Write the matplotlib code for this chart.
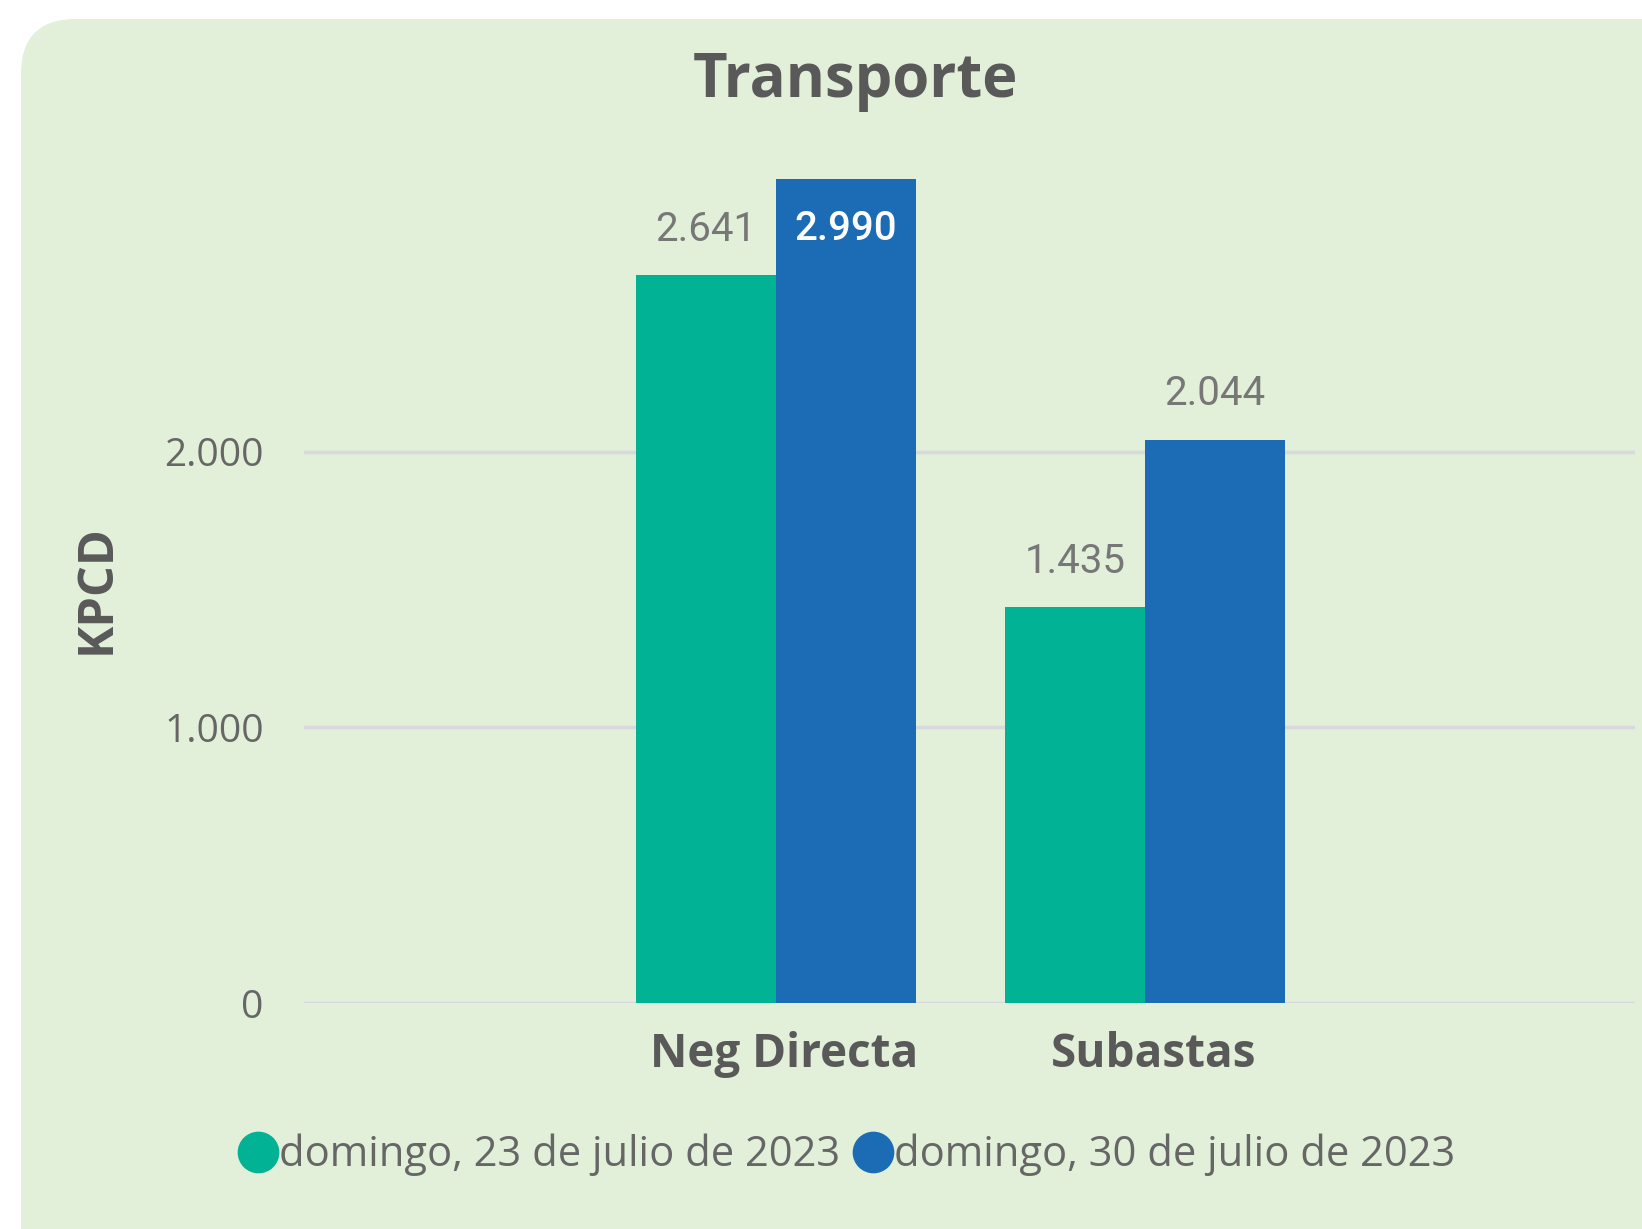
import numpy as np
import matplotlib.pyplot as plt
import matplotlib.transforms as mtransforms
from matplotlib.patches import FancyBboxPatch
from matplotlib.lines import Line2D

categories = ['Neg Directa', 'Subastas']
series_names = ['domingo, 23 de julio de 2023', 'domingo, 30 de julio de 2023']
week1 = [2641, 1435]
week2 = [2990, 2044]
yticks = [0, 1000, 2000]
ytick_labels = ['0', '1.000', '2.000']

GREEN = '#01B294'
BLUE = '#1B6CB4'
BG = '#E2EFD9'
TXT = '#595959'


def fmt(v):
    return f'{v:,}'.replace(',', '.')


fig = plt.figure(figsize=(16.42, 12.29), dpi=100)
fig.patch.set_facecolor('white')

# rounded light-green panel
panel = FancyBboxPatch((21, -80), 1700, 1229 - 19 + 80,
                       boxstyle='round,pad=0,rounding_size=55',
                       transform=None, facecolor=BG, edgecolor='none', zorder=-10)
fig.patches.append(panel)

ax = fig.add_axes([304 / 1642, 226 / 1229, 1331 / 1642, 882 / 1229])
ax.set_facecolor('none')

x = np.arange(len(categories))
w = 0.38
b1 = ax.bar(x - w / 2, week1, w, color=GREEN, zorder=3)
b2 = ax.bar(x + w / 2, week2, w, color=BLUE, zorder=3)

ax.set_xlim(-1.279, 2.328)
ax.set_ylim(0, 3200)

ax.set_yticks(yticks)
ax.set_yticklabels(ytick_labels, fontsize=28, color='#666666', family='Open Sans')
ax.tick_params(axis='y', length=0, pad=29)
ax.set_xticks(x)
ax.set_xticklabels(categories, fontsize=33, fontweight='bold', color=TXT, family='Open Sans')
ax.tick_params(axis='x', length=0, pad=20)
# nudge category labels slightly right, as in the original
shift = mtransforms.ScaledTranslation(6 / 72, 0, fig.dpi_scale_trans)
for lbl in ax.get_xticklabels():
    lbl.set_transform(lbl.get_transform() + shift)

ax.yaxis.grid(True, color='#D8D8DE', linewidth=2.5, zorder=1)
for s in ax.spines.values():
    s.set_visible(False)

# data labels
for xi, v in zip(x - w / 2, week1):
    ax.annotate(fmt(v), (xi, v), xytext=(0, 33), textcoords='offset points',
                ha='center', va='center', fontsize=29, color='#777777', family='Roboto')
top = max(week2)
for xi, v in zip(x + w / 2, week2):
    if v == top:
        ax.annotate(fmt(v), (xi, v), xytext=(0, -36), textcoords='offset points',
                    ha='center', va='center', fontsize=29, color='white',
                    fontweight='medium', family='Roboto')
    else:
        ax.annotate(fmt(v), (xi, v), xytext=(0, 33), textcoords='offset points',
                    ha='center', va='center', fontsize=29, color='#777777', family='Roboto')

ax.set_ylabel('KPCD', fontsize=35, fontweight='bold', color=TXT, family='Open Sans')
ax.yaxis.set_label_coords(-0.137, 0.469)

fig.text(855 / 1642, 1 - 82 / 1229, 'Transporte', ha='center', va='center',
         fontsize=43, fontweight='bold', color=TXT, family='Open Sans')

handles = [Line2D([], [], marker='o', linestyle='none', markersize=29, color=c)
           for c in (GREEN, BLUE)]
fig.legend(handles, series_names, loc='center', bbox_to_anchor=(846 / 1642, 74 / 1229),
           ncol=2, frameon=False, labelcolor='#666666',
           handletextpad=0.0, columnspacing=0.3, handlelength=1.0,
           prop={'family': 'Open Sans', 'size': 30})

fig.savefig('out.png', dpi=100, facecolor=fig.get_facecolor())
